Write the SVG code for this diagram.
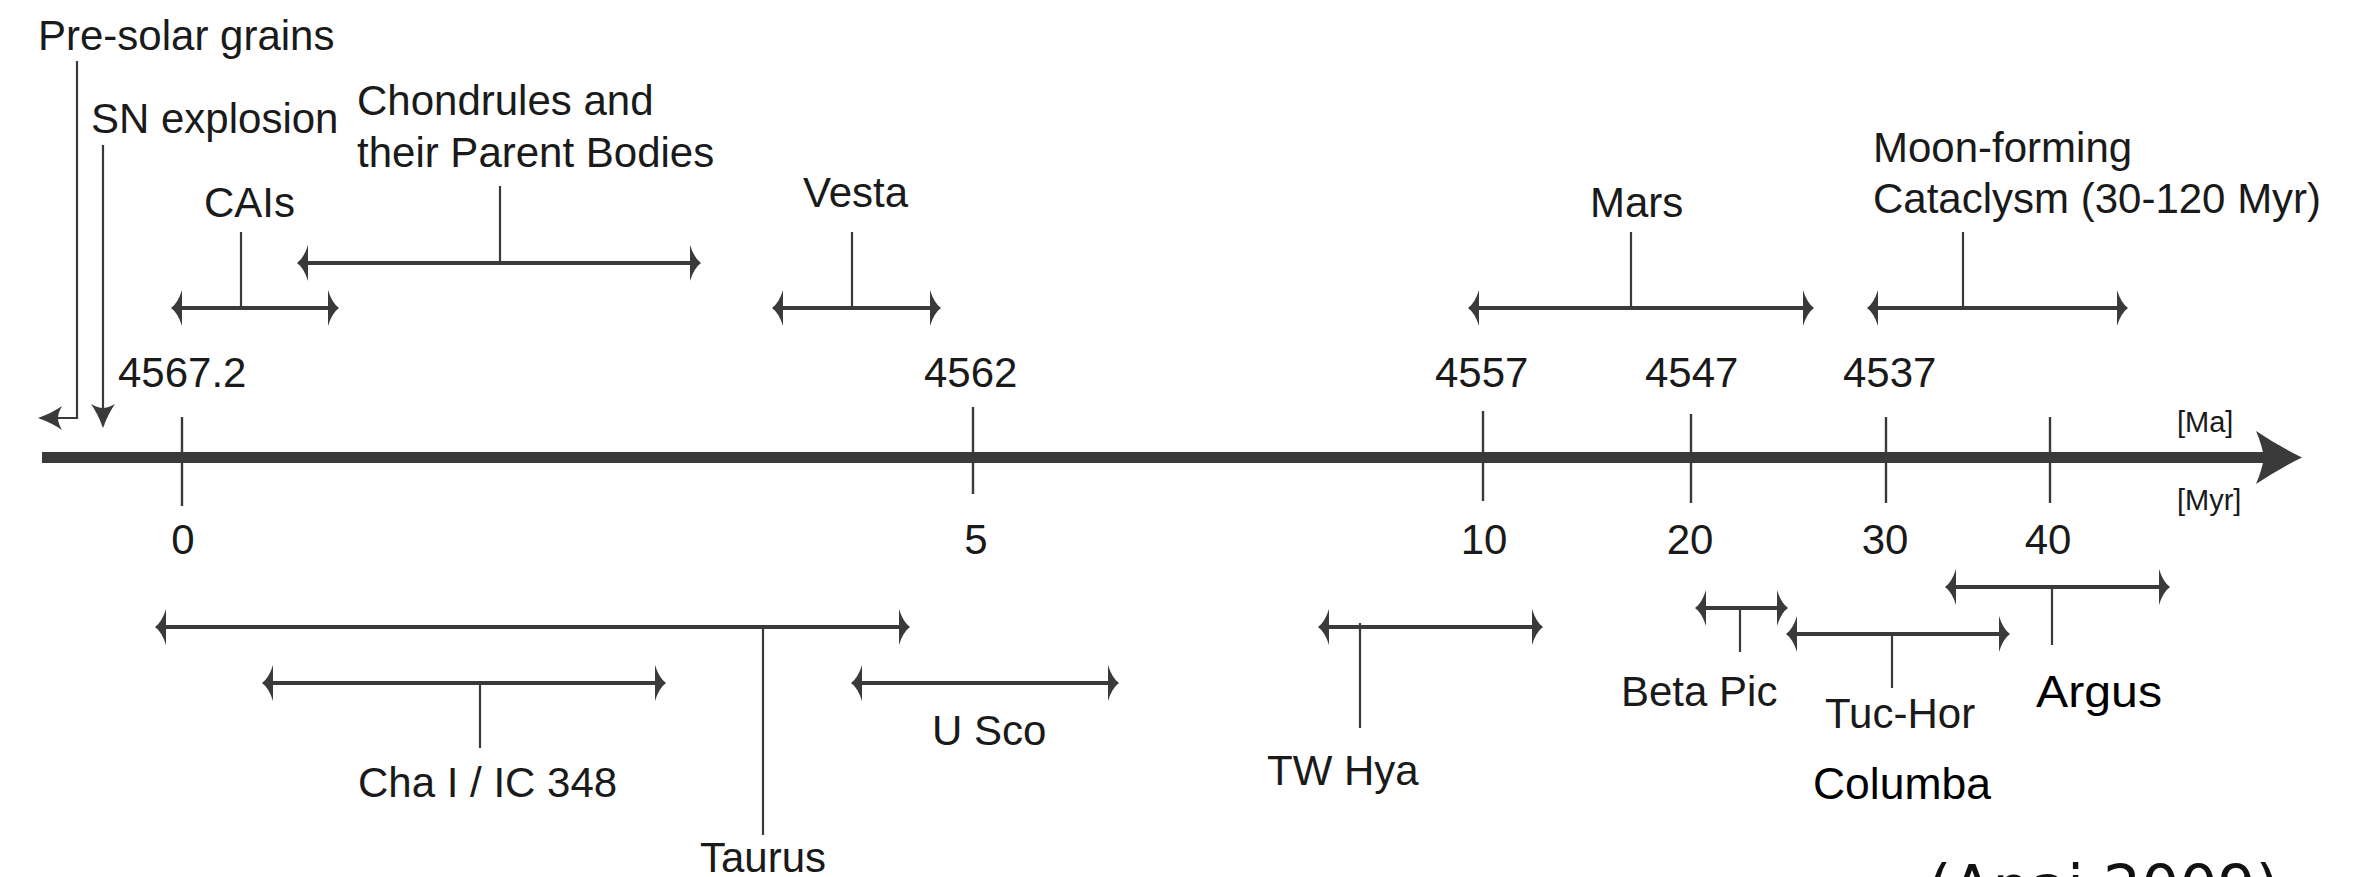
<svg xmlns="http://www.w3.org/2000/svg" width="2356" height="877" viewBox="0 0 2356 877">
<style>
.t{font-family:"Liberation Sans",Arial,sans-serif;font-size:42px;fill:#1a1a1a}
.b{font-size:45px;fill:#000}
.u{font-family:"Liberation Sans",Arial,sans-serif;font-size:29px;fill:#1a1a1a}
.m{text-anchor:middle}
.bar{stroke:#3a3a3a;stroke-width:4;fill:none;marker-start:url(#hd);marker-end:url(#hd)}
.stem{stroke:#3a3a3a;stroke-width:2.2;fill:none}
.tick{stroke:#3a3a3a;stroke-width:2.4;fill:none}
.src{font-family:"DejaVu Sans",sans-serif;font-size:60px;fill:#111}
</style>
<defs>
<marker id="hd" viewBox="0 0 12 36" refX="6" refY="18" markerWidth="12" markerHeight="36" markerUnits="userSpaceOnUse" orient="auto-start-reverse">
<path d="M12,18 Q5,13 1,0 L1,36 Q5,23 12,18 Z" fill="#3a3a3a"/>
</marker>
<marker id="sm" viewBox="0 0 26 24" refX="24" refY="12" markerWidth="26" markerHeight="24" markerUnits="userSpaceOnUse" orient="auto">
<path d="M26,12 Q12,7 2,0 Q6,7 6,12 Q6,17 2,24 Q12,17 26,12 Z" fill="#3a3a3a"/>
</marker>
</defs>

<g id="axis">
<line x1="42" y1="457.5" x2="2266" y2="457.5" stroke="#3a3a3a" stroke-width="11"/>
<path d="M2302,457.5 Q2280,447 2256,431 Q2262,445 2264,457.5 Q2262,470 2256,484 Q2280,468 2302,457.5 Z" fill="#3a3a3a"/>
<text class="u" x="2177" y="432">[Ma]</text>
<text class="u" x="2177" y="510">[Myr]</text>
</g>

<g id="ticks">
<line class="tick" x1="182" y1="417" x2="182" y2="506"/>
<line class="tick" x1="973" y1="407" x2="973" y2="494"/>
<line class="tick" x1="1483" y1="411" x2="1483" y2="501"/>
<line class="tick" x1="1691" y1="414" x2="1691" y2="503"/>
<line class="tick" x1="1886" y1="417" x2="1886" y2="503"/>
<line class="tick" x1="2050" y1="417" x2="2050" y2="503"/>
<text class="t" x="118" y="387">4567.2</text>
<text class="t" x="924" y="387">4562</text>
<text class="t" x="1435" y="387">4557</text>
<text class="t" x="1645" y="387">4547</text>
<text class="t" x="1843" y="387">4537</text>
<text class="t m" x="183" y="554">0</text>
<text class="t m" x="976" y="554">5</text>
<text class="t m" x="1484" y="554">10</text>
<text class="t m" x="1690" y="554">20</text>
<text class="t m" x="1885" y="554">30</text>
<text class="t m" x="2048" y="554">40</text>
</g>

<g id="presolar">
<text class="t" x="38" y="50">Pre-solar grains</text>
</g>
<g id="sn">
<text class="t" x="91" y="133">SN explosion</text>
</g>
<g id="cais">
<text class="t" x="204" y="217">CAIs</text>
</g>
<g id="chondrules">
<text class="t" x="357" y="115">Chondrules and</text>
<text class="t" x="357" y="167">their Parent Bodies</text>
</g>
<g id="vesta"><text class="t" x="803" y="207">Vesta</text></g>
<g id="mars"><text class="t" x="1590" y="217">Mars</text></g>
<g id="moon">
<text class="t" x="1873" y="162">Moon-forming</text>
<text class="t" x="1873" y="213">Cataclysm (30-120 Myr)</text>
</g>
<g id="taurus"><text class="t" x="700" y="872">Taurus</text></g>
<g id="cha"><text class="t" x="358" y="797">Cha I / IC 348</text></g>
<g id="usco"><text class="t" x="932" y="745">U Sco</text></g>
<g id="twhya"><text class="t" x="1267" y="785">TW Hya</text></g>
<g id="betapic"><text class="t" x="1621" y="706">Beta Pic</text></g>
<g id="tuchor"><text class="t" x="1825" y="728">Tuc-Hor</text></g>
<g id="columba"><text class="t b" x="1813" y="799" textLength="178" lengthAdjust="spacingAndGlyphs">Columba</text></g>
<g id="argus"><text class="t b" x="2036" y="707" textLength="126" lengthAdjust="spacingAndGlyphs">Argus</text></g>
<g id="source"><text class="src" x="1928" y="908">(Apai 2009)</text></g>

<g id="connectors">
<polyline class="stem" points="77,61 77,418 40,418" marker-end="url(#sm)"/>
<line class="stem" x1="103" y1="145" x2="103" y2="426" marker-end="url(#sm)"/>

<line class="bar" x1="177" y1="308" x2="333" y2="308"/>
<line class="stem" x1="241" y1="232" x2="241" y2="308"/>
<line class="bar" x1="303" y1="263" x2="695" y2="263"/>
<line class="stem" x1="500" y1="186" x2="500" y2="263"/>
<line class="bar" x1="778" y1="308" x2="935" y2="308"/>
<line class="stem" x1="852" y1="232" x2="852" y2="308"/>
<line class="bar" x1="1474" y1="308" x2="1808" y2="308"/>
<line class="stem" x1="1631" y1="232" x2="1631" y2="308"/>
<line class="bar" x1="1873" y1="308" x2="2122" y2="308"/>
<line class="stem" x1="1963" y1="232" x2="1963" y2="308"/>

<line class="bar" x1="161" y1="627" x2="904" y2="627"/>
<line class="stem" x1="763" y1="627" x2="763" y2="835"/>
<line class="bar" x1="268" y1="683" x2="660" y2="683"/>
<line class="stem" x1="480" y1="683" x2="480" y2="748"/>
<line class="bar" x1="857" y1="683" x2="1113" y2="683"/>
<line class="bar" x1="1324" y1="627" x2="1537" y2="627"/>
<line class="stem" x1="1360" y1="623" x2="1360" y2="728"/>
<line class="bar" x1="1701" y1="608" x2="1782" y2="608"/>
<line class="stem" x1="1740" y1="608" x2="1740" y2="652"/>
<line class="bar" x1="1792" y1="634" x2="2004" y2="634"/>
<line class="stem" x1="1892" y1="634" x2="1892" y2="688"/>
<line class="bar" x1="1951" y1="587" x2="2164" y2="587"/>
<line class="stem" x1="2052" y1="587" x2="2052" y2="645"/>
</g>
</svg>
